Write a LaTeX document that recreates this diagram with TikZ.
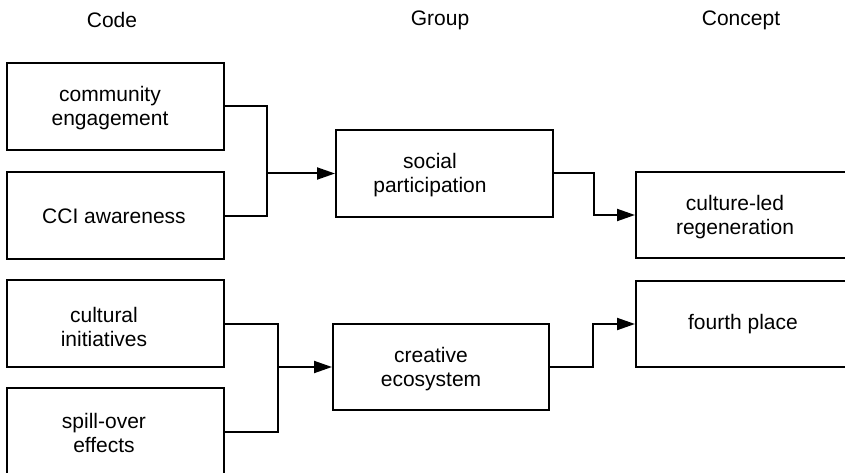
\documentclass[tikz,border=0pt]{standalone}
\usepackage{fontspec}
\setmainfont{Liberation Sans}
\usetikzlibrary{arrows.meta}
\begin{document}
\begin{tikzpicture}[x=1pt,y=-1pt,
  box/.style={draw=black,line width=2pt,minimum width=#1,inner sep=0pt},
  txt/.style={font=\fontsize{21}{24.5}\selectfont,align=center,inner sep=0pt},
  conn/.style={draw=black,line width=2pt},
  arr/.style={conn,-{Triangle[length=18pt,width=12pt]}}]
\useasboundingbox (0,0) rectangle (845,473);
\clip (0,0) rectangle (845,473);
% headers
\node[txt] (hcode) at (112,20) {Code};
\node[txt] (hgroup) at (440,20) {Group};
\node[txt] (hconcept) at (741,20) {Concept};
% code boxes
\node[box=217pt,minimum height=87pt] (ce) at (115.5,106.5) {};
\node[box=217pt,minimum height=87pt] (cci) at (115.5,215.5) {};
\node[box=217pt,minimum height=87pt] (ci) at (115.5,323.5) {};
\node[box=217pt,minimum height=88pt] (so) at (115.5,432) {};
% group boxes
\node[box=217pt,minimum height=87pt] (sp) at (444.5,173.5) {};
\node[box=216pt,minimum height=86pt] (eco) at (441,367) {};
% concept boxes
\node[box=230pt,minimum height=86pt] (clr) at (751,215) {};
\node[box=230pt,minimum height=86pt] (fp) at (751,324) {};
% texts
\node[txt] (ce-t) at (110,108) {community\\engagement};
\node[txt] (cci-t) at (114,216) {CCI awareness};
\node[txt] (ci-t) at (104,327) {cultural\\initiatives};
\node[txt] (so-t) at (104,433) {spill-over\\effects};
\node[txt] (sp-t) at (430,175) {social\\participation};
\node[txt] (eco-t) at (431,369) {creative\\ecosystem};
\node[txt] (clr-t) at (735,217) {culture-led\\regeneration};
\node[txt] (fp-t) at (743,324) {fourth place};
% junctions
\coordinate (j1) at (267,173.5);
\coordinate (j2) at (278,367);
\coordinate (k1) at (594,194);
\coordinate (k2) at (593,345);
% connectors
\draw[conn] (ce.east) -| (j1) |- (cci.east);
\draw[arr] (j1) -- (sp.west);
\draw[conn] (ci.east) -| (j2) |- (so.east);
\draw[arr] (j2) -- (eco.west);
\draw[arr] (sp.east) -| (k1) |- (clr.west);
\draw[arr] (eco.east) -| (k2) |- (fp.west);
\end{tikzpicture}
\end{document}
